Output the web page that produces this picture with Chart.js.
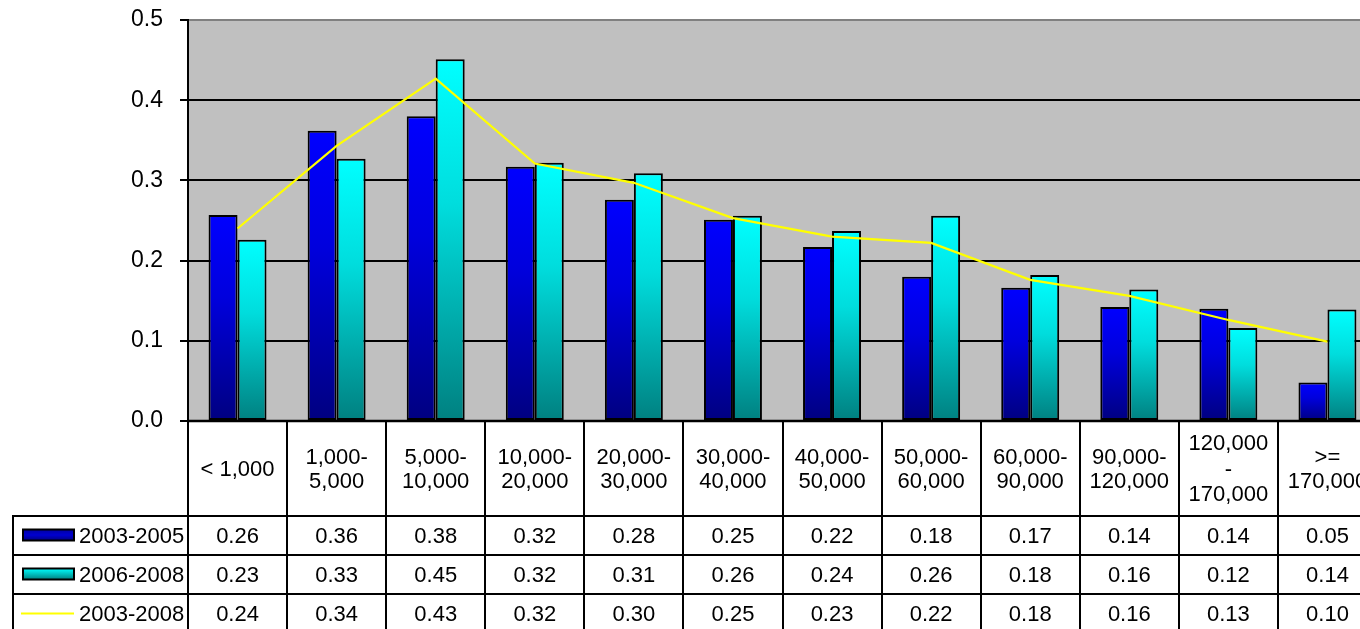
<!DOCTYPE html>
<html>
<head>
<meta charset="utf-8">
<script src="https://cdn.jsdelivr.net/npm/chart.js@4.4.1/dist/chart.umd.min.js"></script>
<style>
  html, body { margin: 0; padding: 0; background: #ffffff; overflow: hidden; width: 1360px; height: 629px; }
  canvas { display: block; }
</style>
</head>
<body>
<canvas id="c" width="1400" height="629"></canvas>
<script>
// ---- data ----
const categories = ['< 1,000', '1,000-\n5,000', '5,000-\n10,000', '10,000-\n20,000', '20,000-\n30,000',
  '30,000-\n40,000', '40,000-\n50,000', '50,000-\n60,000', '60,000-\n90,000', '90,000-\n120,000',
  '120,000\n-\n170,000', '>=\n170,000'];
const series2003_2005 = [0.257, 0.362, 0.380, 0.317, 0.276, 0.251, 0.217, 0.180, 0.166, 0.142, 0.140, 0.048];
const series2006_2008 = [0.226, 0.327, 0.451, 0.322, 0.309, 0.256, 0.237, 0.256, 0.182, 0.164, 0.116, 0.139];
const series2003_2008 = [0.240, 0.343, 0.427, 0.321, 0.297, 0.253, 0.230, 0.222, 0.176, 0.156, 0.126, 0.099];
const seriesNames = ['2003-2005', '2006-2008', '2003-2008'];
const yTicks = [0.0, 0.1, 0.2, 0.3, 0.4, 0.5];

const FONT = "'Liberation Sans', Arial, sans-serif";

function barGradient(top, mid, bottom) {
  return (ctx) => {
    const chart = ctx.chart;
    if (!chart.chartArea || ctx.raw === undefined) return top;
    const ys = chart.scales.y;
    const y0 = ys.getPixelForValue(ctx.raw);
    const y1 = ys.getPixelForValue(0);
    const g = chart.ctx.createLinearGradient(0, y0, 0, y1 === y0 ? y0 + 1 : y1);
    g.addColorStop(0, top);
    g.addColorStop(0.4, mid);
    g.addColorStop(1, bottom);
    return g;
  };
}

const plotBg = {
  id: 'plotBg',
  beforeDraw(chart) {
    const { ctx, chartArea: a } = chart;
    ctx.save();
    ctx.fillStyle = '#C0C0C0';
    ctx.fillRect(a.left, a.top, a.right - a.left, a.bottom - a.top);
    ctx.restore();
  }
};

const dataTable = {
  id: 'dataTable',
  afterDraw(chart) {
    const { ctx, chartArea: a } = chart;
    const xs = chart.scales.x;
    const n = categories.length;
    const cw = (a.right - a.left) / n;
    const top = a.bottom;
    const headerH = 95;
    const rowH = 39;
    const rowTops = [top + headerH, top + headerH + rowH, top + headerH + 2 * rowH, top + headerH + 3 * rowH];
    const tableLeft = 13;
    const bottom = chart.height + 10;

    ctx.save();
    ctx.strokeStyle = '#000';
    ctx.lineWidth = 2;
    for (let i = 0; i <= n; i++) {
      const x = Math.round(xs.getPixelForValue(i) - cw / 2);
      ctx.beginPath();
      ctx.moveTo(x, top);
      ctx.lineTo(x, bottom);
      ctx.stroke();
    }
    ctx.beginPath();
    ctx.moveTo(tableLeft, rowTops[0]);
    ctx.lineTo(tableLeft, bottom);
    ctx.stroke();
    rowTops.forEach((y) => {
      ctx.beginPath();
      ctx.moveTo(tableLeft - 1, y);
      ctx.lineTo(chart.width, y);
      ctx.stroke();
    });
    ctx.lineWidth = 2.5;
    ctx.beginPath();
    ctx.moveTo(a.left, top);
    ctx.lineTo(a.right, top);
    ctx.stroke();

    ctx.fillStyle = '#000';
    ctx.font = '22px ' + FONT;
    ctx.textAlign = 'center';
    ctx.textBaseline = 'middle';
    categories.forEach((label, i) => {
      const lines = label.split('\n');
      const lh = lines.length > 2 ? 25.5 : 24;
      const cx = xs.getPixelForValue(i);
      const cy = top + headerH / 2 + 1;
      lines.forEach((ln, k) => {
        ctx.fillText(ln, cx, cy + (k - (lines.length - 1) / 2) * lh);
      });
    });

    const allSeries = [series2003_2005, series2006_2008, series2003_2008];
    allSeries.forEach((vals, r) => {
      const cy = rowTops[r] + rowH / 2 + 1;
      vals.forEach((v, i) => {
        ctx.fillText(v.toFixed(2), xs.getPixelForValue(i), cy);
      });
    });

    ctx.textAlign = 'left';
    seriesNames.forEach((name, r) => {
      const cy = rowTops[r] + rowH / 2;
      if (r < 2) {
        const ky = cy - 6, kh = 11;
        const g = ctx.createLinearGradient(0, ky, 0, ky + kh);
        if (r === 0) { g.addColorStop(0, '#0000A0'); g.addColorStop(0.5, '#0000D0'); g.addColorStop(1, '#000080'); }
        else { g.addColorStop(0, '#00FFFF'); g.addColorStop(1, '#008080'); }
        ctx.fillStyle = g;
        ctx.fillRect(23, ky, 51, kh);
        ctx.lineWidth = 2;
        ctx.strokeStyle = '#000';
        ctx.strokeRect(23, ky, 51, kh);
      } else {
        ctx.strokeStyle = '#FFFF00';
        ctx.lineWidth = 2;
        ctx.beginPath();
        ctx.moveTo(21, cy);
        ctx.lineTo(74, cy);
        ctx.stroke();
      }
      ctx.fillStyle = '#000';
      ctx.fillText(name, 79, cy + 1);
    });
    ctx.restore();
  }
};

new Chart(document.getElementById('c'), {
  type: 'bar',
  data: {
    labels: categories,
    datasets: [
      {
        type: 'line',
        label: seriesNames[2],
        data: series2003_2008,
        borderColor: '#FFFF00',
        borderWidth: 2.2,
        pointRadius: 0,
        tension: 0,
        fill: false,
        order: 0
      },
      {
        label: seriesNames[0],
        data: series2003_2005,
        backgroundColor: barGradient('#0000FF', '#0000DD', '#000080'),
        borderColor: '#000',
        borderWidth: 2,
        borderSkipped: false,
        categoryPercentage: 0.585,
        barPercentage: 1.0,
        order: 1
      },
      {
        label: seriesNames[1],
        data: series2006_2008,
        backgroundColor: barGradient('#00FFFF', '#00DDDD', '#008080'),
        borderColor: '#000',
        borderWidth: 2,
        borderSkipped: false,
        categoryPercentage: 0.585,
        barPercentage: 1.0,
        order: 1
      }
    ]
  },
  options: {
    responsive: false,
    animation: false,
    layout: { padding: { top: 20, bottom: 208, left: 0, right: 23 } },
    plugins: { legend: { display: false }, tooltip: { enabled: false } },
    scales: {
      x: {
        display: false,
        grid: { display: false }
      },
      y: {
        min: 0,
        max: 0.5,
        afterBuildTicks(scale) { scale.ticks = yTicks.map(v => ({ value: v })); },
        afterFit(scale) { scale.width = 188; scale.paddingTop = 0; scale.paddingBottom = 0; },
        ticks: {
          callback: (v) => Number(v).toFixed(1),
          color: '#000',
          font: { family: FONT, size: 23 },
          padding: 17
        },
        grid: {
          color: (c) => (c.tick && c.tick.value === 0.5) ? '#808080' : '#000',
          tickColor: '#000',
          lineWidth: 2,
          tickLength: 8
        },
        border: { display: true, color: '#000', width: 2 }
      }
    }
  },
  plugins: [plotBg, dataTable]
});
</script>
</body>
</html>
